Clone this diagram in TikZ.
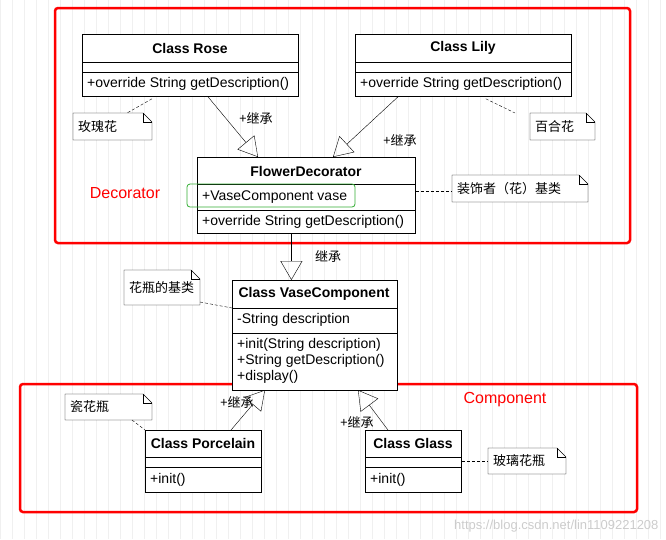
\documentclass[tikz,border=0pt]{standalone}
\usepackage{fontspec}
\setmainfont{Liberation Sans}
\newfontfamily\cjk{Noto Sans CJK SC}
\usetikzlibrary{arrows.meta,calc}
\tikzset{
  cls/.style={draw,thick,fill=white,anchor=north west,inner sep=0pt},
  txt/.style={anchor=west,inner sep=0pt,font=\fontsize{14}{16}\selectfont},
  ttl/.style={inner sep=0pt,font=\fontsize{14}{16}\selectfont\bfseries},
  inherit/.style={-{Triangle[open,length=19pt,width=22pt]},thin},
  lbl/.style={inner sep=0pt,font=\fontsize{13}{15}\selectfont\cjk},
  notelink/.style={densely dashed,thin},
  frame/.style={draw=red,line width=2.5pt,rounded corners=3pt},
}
% note with folded corner: name, x1, y1, x2, y2, text
\newcommand\umlnote[6]{
  \draw[fill=white] (#2,#3) -- (#4-9,#3) -- (#4,#3+9) -- (#4,#5) -- (#2,#5) -- cycle;
  \draw (#4-9,#3) -- (#4-9,#3+9) -- (#4,#3+9);
  \node[lbl,anchor=west] (#1) at (#2+5,{(#3+#5)/2}) {#6};
}
\begin{document}
\begin{tikzpicture}[x=1pt,y=-1pt]
\useasboundingbox (0,0) rectangle (666,539);
\draw[gray!12,step=12] (0,0) grid (666,539);

% frames
\draw[frame] (55,8) rectangle (630,243);
\draw[frame] (20,384) rectangle (637,512);
\node[text=red,font=\fontsize{16}{18}\selectfont] (deco) at (125,193) {Decorator};
\node[text=red,font=\fontsize{16}{18}\selectfont] (comp) at (505,400) {Component};

% Rose
\node[cls,minimum width=216,minimum height=62] (rose) at (82,34) {};
\draw (82,62) -- (298,62) (82,72) -- (298,72);
\node[ttl] at (190,48) {Class Rose};
\node[txt] at (87,84) {+override String getDescription()};
% Lily
\node[cls,minimum width=216,minimum height=62] (lily) at (355,34) {};
\draw (355,62) -- (571,62) (355,72) -- (571,72);
\node[ttl] at (463,48) {Class Lily};
\node[txt] at (360,84) {+override String getDescription()};
% FlowerDecorator
\node[cls,minimum width=218,minimum height=76] (fd) at (197,157) {};
\draw (197,184) -- (415,184) (197,210) -- (415,210);
\node[ttl] at (306,171) {FlowerDecorator};
\node[txt] at (202,197) {+VaseComponent vase};
\node[txt] at (202,222) {+override String getDescription()};
\draw[green!60!black!80,thick,rounded corners=3pt] (187,184) rectangle (355,207);
% VaseComponent
\node[cls,minimum width=165,minimum height=110] (vase) at (232,280) {};
\draw (232,308) -- (397,308) (232,333) -- (397,333);
\node[ttl] at (314,294) {Class VaseComponent};
\node[txt] at (237,320) {-String description};
\node[txt] at (237,345) {+init(String description)};
\node[txt] at (237,361) {+String getDescription()};
\node[txt] at (237,377) {+display()};
% Porcelain
\node[cls,minimum width=116,minimum height=62] (porc) at (145,430) {};
\draw (145,457) -- (261,457) (145,467) -- (261,467);
\node[ttl] at (203,443) {Class Porcelain};
\node[txt] at (150,480) {+init()};
% Glass
\node[cls,minimum width=96,minimum height=62] (glass) at (365,430) {};
\draw (365,457) -- (461,457) (365,467) -- (461,467);
\node[ttl] at (413,443) {Class Glass};
\node[txt] at (370,480) {+init()};

% notes
\umlnote{nrose}{73}{113}{152}{140}{玫瑰花}
\umlnote{nlily}{530}{113}{595}{140}{百合花}
\umlnote{nfd}{452}{175}{588}{202}{装饰者（花）基类}
\umlnote{nvase}{124}{270}{200}{305}{花瓶的基类}
\umlnote{nporc}{65}{394}{152}{420}{瓷花瓶}
\umlnote{nglass}{488}{448}{566}{474}{玻璃花瓶}

% inheritance
\draw[inherit] (rose.south west) ++(126,0) coordinate (r1) -- (258,157) coordinate (r2);
\draw[inherit] (lily.south west) ++(43,0) coordinate (l1) -- (333,157) coordinate (l2);
\draw[inherit] (fd.south) ++(-15,0) coordinate (f1) -- (vase.north -| f1);
\draw[inherit] (porc.north west) ++(86,0) coordinate (p1) -- (265,390) coordinate (p2);
\draw[inherit] (glass.north west) ++(23,0) coordinate (g1) -- (358,390) coordinate (g2);
\node[lbl] at (256,118) {+继承};
\node[lbl] at (400,140) {+继承};
\node[lbl] at (328,256) {继承};
\node[lbl] at (237,402) {+继承};
\node[lbl] at (357,422) {+继承};

% note links
\draw[notelink] (rose.south west) ++(70,2) -- (127,113);
\draw[notelink] (lily.south east) ++(-86,2) -- (515,113);
\draw[notelink] (fd.east |- 0,191) -- (452,191);
\draw[notelink] (200,302) -- (vase.north west |- 0,308);
\draw[notelink] (132,420) -- (porc.north west);
\draw[notelink] (glass.east |- 0,461) -- (488,461);

\node[gray!40,font=\fontsize{13}{15}\selectfont,anchor=south east] (wm) at (662,536) {https://blog.csdn.net/lin1109221208};
\end{tikzpicture}
\end{document}
